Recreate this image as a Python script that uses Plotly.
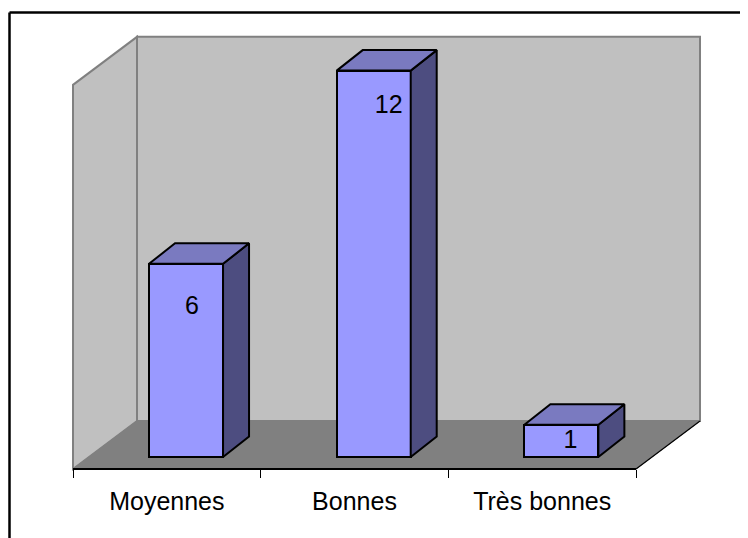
import plotly.graph_objects as go

categories = ["Moyennes", "Bonnes", "Très bonnes"]
values = [6, 12, 1]
wall_top = 11.93

# layout in pixels (the page adds an 8 px body margin at top and left)
PAGE = 8
W, H = 748 - PAGE, 538 - PAGE
PAD = 4
L, R, T, B = 73 - PAGE, 699 - PAGE, 36 - PAGE, 469 - PAGE
PX_CAT = 187.67
PX_VAL = 32.2

x_range = [-PAD / PX_CAT, (R - L + PAD) / PX_CAT]
y_range = [-PAD / PX_VAL, (B - T + PAD) / PX_VAL]
DX = 64 / PX_CAT       # depth projection of the whole floor
DY = 48 / PX_VAL
BAR_W = 74 / PX_CAT
BAR_SHIFT_X = 19.2 / PX_CAT
BAR_BASE = 12 / PX_VAL
BAR_DX = 26 / PX_CAT
BAR_DY = 20.5 / PX_VAL

WALL, EDGE, FLOOR = "#C0C0C0", "#808080", "#808080"
FRONT, TOP, SIDE = "#9999FF", "#7A7AC0", "#4D4D80"
FONT = "Liberation Sans, Arial, sans-serif"
OUTLINE = 2


def poly(points, fill, line, width=1.2, layer="below"):
    path = "M" + " L".join(f"{x},{y}" for x, y in points) + " Z"
    return dict(type="path", path=path, xref="x", yref="y", fillcolor=fill,
                line=dict(color=line, width=width), layer=layer)


n = len(categories)
xr = n
shapes = [
    poly([(0, 0), (DX, DY), (DX, wall_top + DY), (0, wall_top)], WALL, EDGE, 2),
    poly([(DX, DY), (xr + DX, DY), (xr + DX, wall_top + DY), (DX, wall_top + DY)], WALL, EDGE, 2),
    poly([(0, 0), (xr, 0), (xr + DX, DY), (DX, DY)], FLOOR, EDGE, 1),
    dict(type="line", xref="x", yref="y", x0=xr, y0=0, x1=xr + DX, y1=DY,
         line=dict(color="#000000", width=1.2), layer="below"),
    dict(type="line", xref="x", yref="y", x0=0, y0=0, x1=xr, y1=0,
         line=dict(color="#000000", width=2), layer="below"),
]

# outer frame: left and top edges, both running off the page
plot_w = R - L + 2 * PAD
plot_h = B - T + 2 * PAD
plot_left = L - PAD
plot_bottom = B + PAD
fx0 = (9.5 - PAGE - plot_left) / plot_w
fy0 = (plot_bottom - (12.5 - PAGE)) / plot_h
fy1 = (plot_bottom - H - 5) / plot_h
fx1 = (W + 5 - plot_left) / plot_w
shapes += [
    dict(type="line", xref="paper", yref="paper", x0=fx0, x1=fx0, y0=fy0, y1=fy1,
         line=dict(color="#000000", width=2.5)),
    dict(type="line", xref="paper", yref="paper", x0=fx0, x1=fx1, y0=fy0, y1=fy0,
         line=dict(color="#000000", width=2.5)),
]

fig = go.Figure()

centers = [i + 0.5 + BAR_SHIFT_X for i in range(n)]
fig.add_trace(go.Bar(
    x=centers, y=values, base=BAR_BASE, width=BAR_W,
    marker=dict(color=FRONT, line=dict(color="#000000", width=OUTLINE)),
    hoverinfo="skip", showlegend=False,
))

for cx, v in zip(centers, values):
    x0, x1 = cx - BAR_W / 2, cx + BAR_W / 2
    y0, y1 = BAR_BASE, BAR_BASE + v
    # side face
    fig.add_trace(go.Scatter(
        x=[x1, x1 + BAR_DX, x1 + BAR_DX, x1, x1],
        y=[y0, y0 + BAR_DY, y1 + BAR_DY, y1, y0],
        mode="lines", fill="toself", fillcolor=SIDE,
        line=dict(color="#000000", width=OUTLINE),
        hoverinfo="skip", showlegend=False,
    ))
    # top face
    fig.add_trace(go.Scatter(
        x=[x0, x1, x1 + BAR_DX, x0 + BAR_DX, x0],
        y=[y1, y1, y1 + BAR_DY, y1 + BAR_DY, y1],
        mode="lines", fill="toself", fillcolor=TOP,
        line=dict(color="#000000", width=OUTLINE),
        hoverinfo="skip", showlegend=False,
    ))

label_dx = [6 / PX_CAT, 15 / PX_CAT, 9 / PX_CAT]
label_dy = [1.37, 1.13, 0.53]
fig.add_trace(go.Scatter(
    x=[c + d for c, d in zip(centers, label_dx)],
    y=[v + BAR_BASE - d for v, d in zip(values, label_dy)],
    text=[str(v) for v in values],
    mode="text", textposition="middle center",
    textfont=dict(family=FONT, size=25, color="#000000"),
    hoverinfo="skip", showlegend=False,
))

fig.update_layout(
    width=W, height=H,
    margin=dict(l=plot_left, r=W - (R + PAD), t=T - PAD, b=H - plot_bottom, autoexpand=False),
    paper_bgcolor="#FFFFFF", plot_bgcolor="#FFFFFF",
    shapes=shapes, showlegend=False, bargap=0,
    xaxis=dict(
        range=x_range, showgrid=False, zeroline=False, showline=False,
        anchor="free", position=PAD / plot_h,
        tickmode="array", tickvals=[i + 0.5 for i in range(n)], ticktext=categories,
        ticks="outside", ticklen=1, tickcolor="rgba(0,0,0,0)", ticklabelstandoff=9,
        tickfont=dict(family=FONT, size=25, color="#000000"),
        minor=dict(tickmode="array", tickvals=list(range(n + 1)), ticks="outside",
                   ticklen=8, tickwidth=1.2, tickcolor="#000000", showgrid=False),
    ),
    yaxis=dict(range=y_range, visible=False, showgrid=False, zeroline=False),
)

fig.write_html("out.html")
